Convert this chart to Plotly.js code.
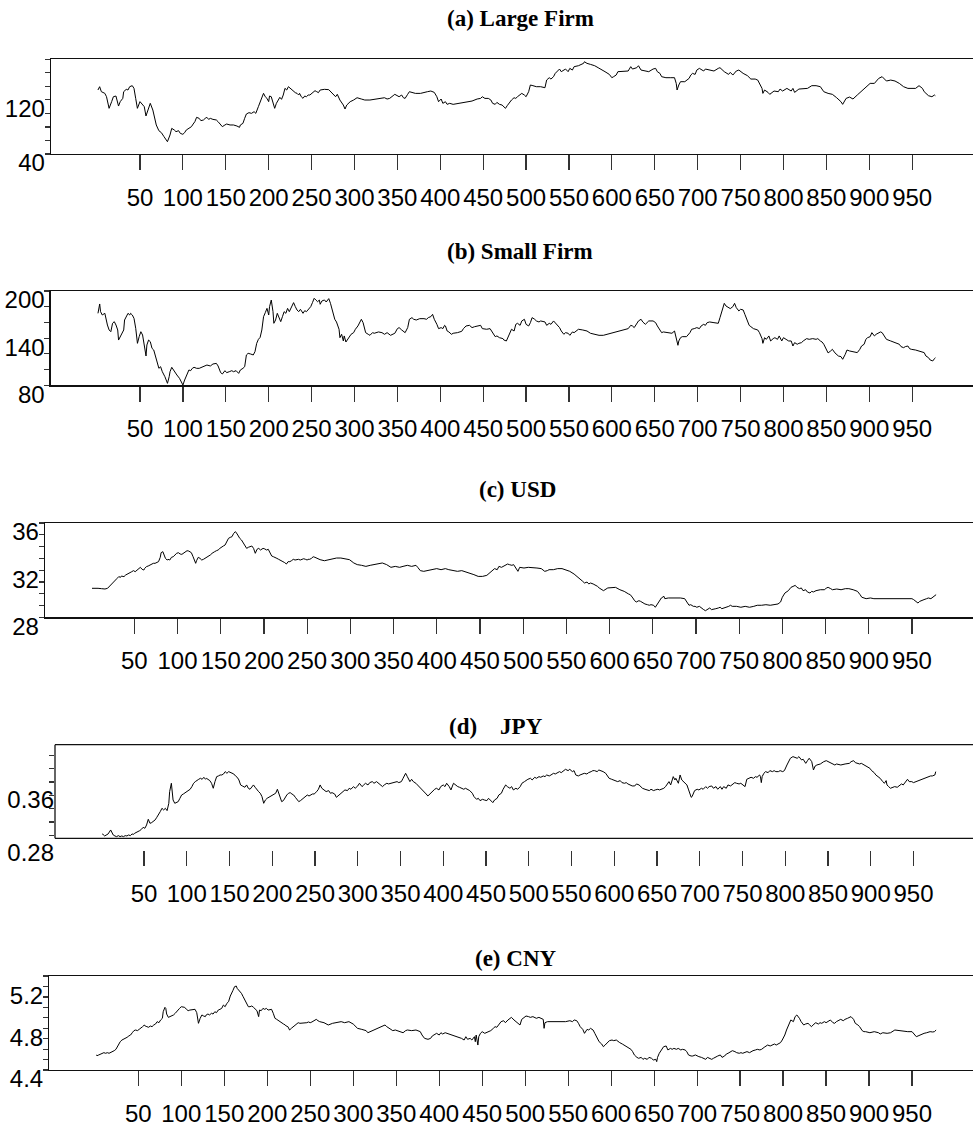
<!DOCTYPE html>
<html><head><meta charset="utf-8">
<script src="https://cdn.plot.ly/plotly-3.0.1.min.js"></script>
<style>html,body{margin:0;padding:0;background:#fff}#chart{width:973px;height:1127px}</style>
</head><body><div id="chart"></div>
<script>
// ---------- DATA ----------
const panelTitles = ["(a) Large Firm", "(b) Small Firm", "(c) USD", "(d)\u00a0\u00a0\u00a0\u00a0JPY", "(e) CNY"];
const xTickValues = [50,100,150,200,250,300,350,400,450,500,550,600,650,700,750,800,850,900,950];
const yLabelValues = [[40,120],[80,140,200],[28,32,36],[0.28,0.36],[4.4,4.8,5.2]];
const yMinorValues = [[40,60,80,100,120,140,160,180],[80,100,120,140,160,180,200],[28,29,30,31,32,33,34,35,36],[0.30,0.32,0.34,0.36,0.38,0.40,0.42],[4.4,4.5,4.6,4.7,4.8,4.9,5.0,5.1,5.2,5.3]];

// [observation index, value]
const largeFirm = [[1,134.6],[3,139.5],[5,132.1],[9,129.7],[11,124.7],[14,107.5],[17,117.4],[19,124.7],[22,125.7],[25,110.9],[27,117.4],[30,122.3],[31,132.1],[34,135.6],[36,134.6],[38,139.5],[41,141.0],[43,137.1],[45,122.3],[47,107.5],[50,117.4],[52,114.9],[55,110.0],[57,96.2],[60,107.5],[62,114.9],[65,105.0],[67,95.2],[69,82.9],[72,74.5],[75,71.5],[78,65.6],[80,61.7],[82,58.2],[85,68.1],[87,77.9],[90,75.5],[92,73.0],[95,74.5],[97,70.5],[100,69.1],[102,71.5],[104,75.5],[107,77.9],[110,80.4],[112,84.3],[114,87.8],[116,94.2],[119,92.7],[121,89.3],[124,90.3],[126,92.7],[128,94.2],[130,91.2],[132,92.7],[135,91.2],[139,90.3],[141,87.8],[144,82.9],[146,80.4],[149,82.9],[151,84.3],[155,82.9],[159,82.9],[163,81.4],[166,79.4],[167,82.9],[170,85.3],[172,92.7],[174,99.1],[177,101.1],[180,100.1],[183,102.6],[185,100.1],[188,110.0],[190,115.9],[192,122.3],[194,129.7],[196,124.7],[198,122.3],[200,117.4],[201,125.7],[203,124.7],[205,114.9],[207,107.5],[209,114.9],[211,119.8],[213,123.8],[215,120.8],[217,127.2],[219,137.1],[221,134.6],[223,139.5],[225,137.1],[227,135.6],[229,132.1],[231,130.7],[233,129.7],[235,127.2],[236,129.7],[238,124.7],[240,122.3],[242,125.7],[244,124.7],[246,127.2],[248,127.2],[250,129.7],[252,132.1],[254,133.6],[256,132.1],[258,130.7],[260,134.6],[265,135.6],[270,135.1],[274,129.6],[278,124.7],[280,128.2],[283,119.8],[287,112.4],[289,106.5],[291,112.4],[295,117.3],[299,119.8],[303,123.2],[308,121.3],[312,119.8],[318,119.8],[322,120.8],[329,122.2],[335,123.2],[338,121.3],[341,122.2],[345,126.2],[347,128.2],[352,124.7],[355,127.2],[357,123.2],[359,122.2],[362,128.2],[364,132.1],[371,129.6],[377,129.6],[385,132.1],[389,133.1],[393,131.1],[396,124.7],[398,117.3],[401,121.3],[403,114.9],[406,117.3],[408,113.4],[411,114.9],[415,113.4],[423,114.9],[430,117.3],[437,118.3],[443,121.3],[447,122.2],[449,124.7],[452,122.2],[456,122.2],[459,119.8],[461,114.9],[464,113.4],[466,116.3],[469,113.4],[472,112.4],[476,107.5],[478,111.4],[481,117.3],[483,119.8],[486,123.2],[488,122.2],[490,124.7],[493,128.2],[495,129.6],[498,127.2],[500,124.7],[503,132.1],[505,142.0],[508,141.0],[512,139.5],[517,139.5],[522,138.0],[524,149.4],[527,152.8],[529,150.8],[532,154.3],[534,159.2],[537,162.7],[539,165.6],[541,161.7],[544,164.1],[546,165.6],[549,161.7],[551,166.6],[554,164.1],[556,169.1],[561,170.5],[567,174.0],[568,176.4],[571,174.0],[575,172.5],[580,170.5],[584,167.6],[588,164.1],[592,161.7],[597,157.7],[600,152.8],[602,154.3],[605,156.7],[607,161.7],[612,161.7],[617,161.7],[619,162.7],[622,169.1],[624,165.6],[629,167.6],[631,170.5],[634,164.1],[639,162.7],[643,161.7],[648,165.6],[651,166.6],[653,161.7],[656,159.2],[658,154.3],[663,152.8],[668,152.8],[673,152.8],[675,144.4],[676,134.6],[678,142.0],[680,146.9],[685,146.9],[690,151.8],[692,156.7],[694,159.2],[697,157.7],[699,164.1],[702,166.6],[707,162.7],[709,165.6],[714,164.1],[719,162.7],[724,166.6],[726,167.6],[731,161.7],[736,157.7],[738,160.7],[741,156.7],[745,162.7],[748,164.1],[753,159.2],[758,155.8],[762,150.8],[767,150.8],[770,149.3],[772,144.4],[775,137.0],[776,129.6],[778,134.6],[782,131.1],[784,128.2],[789,133.1],[794,132.1],[796,136.0],[799,133.1],[804,137.0],[809,133.1],[811,137.0],[813,131.1],[818,136.0],[823,137.0],[828,137.0],[833,141.0],[838,141.0],[843,139.5],[847,132.1],[852,129.6],[857,128.2],[862,123.2],[867,117.3],[869,113.4],[873,122.2],[877,124.2],[881,121.3],[886,127.2],[891,133.1],[896,139.5],[901,144.4],[906,144.4],[911,151.8],[915,154.3],[920,147.9],[925,149.3],[930,147.9],[935,144.4],[940,139.5],[945,137.0],[949,137.0],[954,137.0],[958,141.0],[962,137.0],[964,132.1],[969,126.2],[973,124.7],[976,127.2],[977,126.2]];

const smallFirm = [[1,171.6],[3,183.5],[4,173.7],[6,169.5],[9,171.6],[10,165.2],[12,156.7],[14,150.4],[16,148.2],[18,158.9],[20,161.0],[22,156.7],[24,150.4],[25,137.6],[27,141.9],[29,146.1],[31,150.4],[32,163.1],[34,167.3],[36,171.6],[38,169.5],[39,171.6],[41,169.5],[43,165.2],[45,152.5],[47,133.4],[49,141.9],[51,148.2],[53,144.0],[55,131.3],[57,117.3],[58,131.3],[60,137.6],[62,135.5],[64,127.0],[66,124.9],[69,112.2],[70,107.1],[72,101.6],[74,103.7],[76,97.3],[79,91.0],[81,84.6],[82,82.5],[84,91.0],[85,97.3],[87,102.9],[89,99.5],[91,95.2],[93,93.1],[96,88.9],[98,84.6],[100,80.4],[102,86.7],[104,91.0],[105,95.2],[107,99.5],[109,98.6],[111,101.6],[113,102.9],[116,101.6],[119,101.6],[122,102.9],[125,103.7],[128,105.8],[132,104.6],[135,107.1],[139,107.9],[141,104.6],[144,96.1],[146,94.4],[149,98.6],[151,96.1],[154,97.3],[157,98.6],[159,97.3],[162,98.6],[165,95.2],[167,99.5],[170,101.6],[172,103.7],[174,118.6],[176,120.7],[179,119.8],[182,118.6],[184,122.8],[186,133.4],[188,138.5],[190,141.0],[192,150.4],[194,167.3],[196,172.4],[198,177.9],[200,169.5],[201,180.1],[203,188.5],[205,173.7],[206,158.9],[208,163.1],[210,171.6],[212,166.5],[214,161.0],[216,167.3],[218,173.7],[220,171.6],[222,177.9],[224,173.7],[226,177.9],[228,182.2],[229,185.2],[231,180.1],[233,175.8],[235,173.7],[237,176.7],[240,171.6],[242,175.0],[244,173.7],[246,176.7],[249,180.1],[251,185.2],[253,190.7],[255,188.5],[257,186.4],[259,188.5],[260,183.1],[262,187.3],[265,188.6],[267,186.0],[270,190.3],[272,184.3],[274,176.7],[277,164.0],[279,160.6],[282,151.3],[283,140.6],[285,144.9],[287,136.4],[288,142.8],[290,135.1],[292,138.5],[294,142.8],[296,144.9],[299,147.0],[301,151.3],[304,155.5],[306,160.6],[308,164.0],[310,159.7],[311,155.5],[313,147.0],[316,144.9],[318,143.6],[321,147.0],[323,146.2],[328,147.9],[332,147.0],[335,144.9],[338,147.0],[342,143.6],[347,146.2],[350,152.1],[352,153.4],[355,150.4],[357,149.1],[359,147.0],[362,153.4],[364,164.0],[367,166.1],[369,164.0],[372,163.1],[376,164.8],[381,164.8],[384,164.0],[386,166.1],[389,167.4],[391,170.3],[393,164.0],[396,157.6],[398,152.1],[401,153.4],[403,152.1],[405,156.3],[406,155.5],[408,149.1],[410,147.9],[413,144.9],[415,146.2],[420,147.0],[425,148.7],[427,152.1],[430,155.5],[434,156.3],[437,153.4],[440,154.6],[444,155.5],[447,156.3],[449,152.1],[454,151.3],[458,152.1],[461,147.0],[464,141.9],[466,142.8],[469,140.6],[473,139.4],[474,137.7],[477,136.4],[481,147.9],[483,151.3],[486,149.1],[488,157.6],[490,158.9],[493,156.3],[495,161.9],[498,164.0],[500,157.6],[503,155.5],[505,159.7],[507,166.1],[510,164.0],[512,161.9],[515,160.6],[517,161.9],[522,160.6],[524,156.3],[527,158.9],[529,157.6],[532,161.9],[534,159.7],[537,156.3],[539,153.4],[541,149.1],[544,144.9],[546,147.0],[549,146.2],[551,143.6],[554,147.9],[556,147.0],[558,149.1],[561,151.3],[566,150.4],[571,149.1],[575,146.2],[580,144.9],[585,143.6],[590,143.6],[595,144.9],[600,146.2],[605,147.9],[609,149.1],[614,150.4],[619,152.1],[622,156.3],[624,155.5],[626,153.4],[629,158.9],[631,161.9],[634,164.0],[636,160.6],[639,157.6],[641,159.7],[643,161.9],[648,161.9],[651,159.7],[653,155.5],[656,150.4],[658,147.0],[660,147.9],[665,147.0],[670,146.2],[673,149.1],[675,140.6],[677,130.9],[678,136.4],[680,140.6],[682,141.9],[687,141.9],[691,147.0],[693,151.3],[696,152.1],[699,153.4],[702,152.1],[704,155.5],[707,157.6],[709,156.3],[711,159.7],[714,160.6],[719,159.7],[724,158.9],[726,166.1],[728,172.5],[731,184.3],[733,180.9],[736,178.8],[738,177.6],[741,180.1],[743,184.3],[745,178.8],[748,174.6],[750,176.7],[753,175.9],[755,170.3],[758,161.9],[760,156.3],[762,154.6],[765,152.1],[770,150.4],[772,147.0],[775,139.4],[776,133.4],[778,140.6],[780,138.5],[783,142.8],[785,136.4],[788,139.4],[790,140.6],[793,138.5],[795,142.8],[798,136.4],[800,140.6],[803,138.5],[806,136.4],[809,136.4],[811,130.0],[813,134.3],[816,132.2],[818,133.4],[821,134.3],[823,136.4],[827,139.4],[830,138.5],[834,139.4],[838,138.5],[840,139.4],[843,136.4],[845,135.1],[847,132.2],[850,125.8],[852,121.2],[855,123.7],[857,125.8],[860,121.2],[862,119.4],[864,117.3],[867,116.5],[869,113.1],[872,119.4],[874,124.9],[877,123.7],[881,122.4],[886,121.6],[889,125.8],[891,130.0],[894,132.2],[896,138.5],[898,140.6],[901,141.9],[903,147.0],[906,142.8],[908,144.9],[911,147.0],[913,147.9],[915,147.0],[918,142.8],[920,138.5],[925,136.4],[930,134.3],[935,132.2],[937,129.2],[940,127.9],[942,129.2],[945,130.0],[947,126.6],[949,125.8],[954,124.9],[959,123.7],[964,121.6],[966,117.3],[969,115.2],[971,112.2],[974,111.0],[976,113.9],[977,115.2]];

const usdRate = [[1,30.46],[5,30.49],[8,30.46],[12,30.43],[16,30.40],[19,30.46],[21,30.60],[24,30.80],[26,31.02],[28,31.16],[30,31.30],[32,31.45],[34,31.39],[35,31.50],[38,31.45],[40,31.59],[43,31.67],[45,31.79],[47,31.87],[49,31.96],[51,31.87],[53,32.01],[55,32.15],[57,32.24],[59,32.07],[61,32.01],[62,32.15],[64,32.30],[66,32.35],[68,32.44],[70,32.52],[72,32.58],[74,32.58],[76,32.64],[78,32.72],[80,33.09],[81,33.48],[83,33.57],[84,33.37],[86,33.00],[88,32.86],[89,32.92],[91,32.86],[93,33.09],[95,33.14],[97,33.29],[99,33.43],[101,33.48],[103,33.37],[105,33.34],[107,33.43],[109,33.57],[111,33.65],[113,33.62],[114,33.57],[116,33.48],[118,33.14],[120,32.64],[121,32.58],[122,32.80],[124,33.09],[126,33.00],[128,32.86],[130,32.92],[132,33.00],[134,33.09],[136,33.20],[138,33.29],[140,33.43],[142,33.48],[143,33.57],[145,33.65],[147,33.71],[149,33.85],[151,33.99],[153,34.05],[155,34.13],[157,34.42],[159,34.70],[161,34.78],[163,34.84],[165,35.12],[167,35.27],[169,35.07],[170,34.90],[172,34.70],[174,34.56],[176,34.33],[178,34.13],[180,33.85],[182,33.94],[184,33.99],[186,34.05],[188,33.85],[190,33.43],[192,33.77],[194,33.85],[196,33.71],[197,33.77],[199,33.85],[201,33.80],[203,33.71],[205,33.77],[207,33.43],[209,33.20],[211,33.14],[213,33.09],[215,33.00],[217,32.92],[219,32.86],[221,32.81],[222,32.72],[224,32.64],[226,32.52],[228,32.72],[230,32.72],[232,32.81],[234,32.92],[236,32.86],[238,32.92],[240,32.92],[242,32.86],[244,32.92],[246,32.97],[248,32.92],[250,32.86],[251,32.92],[253,32.92],[255,33.00],[257,33.14],[259,33.09],[265,32.89],[270,32.80],[275,32.89],[279,32.97],[284,33.03],[289,33.03],[294,32.97],[299,32.89],[304,32.61],[308,32.47],[313,32.41],[318,32.32],[323,32.41],[328,32.47],[332,32.52],[337,32.61],[342,32.47],[347,32.24],[352,32.32],[357,32.24],[361,32.32],[366,32.41],[371,32.32],[376,32.41],[378,32.24],[381,31.96],[385,31.90],[390,31.96],[395,32.04],[400,32.13],[405,32.04],[410,32.13],[414,32.04],[419,31.96],[424,31.90],[429,31.96],[434,31.84],[439,31.76],[443,31.62],[448,31.47],[453,31.47],[458,31.56],[460,31.67],[463,31.90],[465,31.96],[467,32.13],[470,32.04],[472,32.32],[475,32.24],[477,32.32],[480,32.47],[482,32.52],[484,32.47],[487,32.41],[489,32.47],[492,32.18],[494,31.90],[496,32.24],[501,32.18],[506,32.24],[511,32.18],[516,32.18],[521,32.13],[525,31.90],[528,31.96],[530,32.04],[535,32.04],[540,32.13],[545,32.13],[549,32.04],[554,31.90],[559,31.67],[564,31.39],[569,31.05],[571,30.91],[574,30.99],[576,30.83],[578,30.91],[581,30.83],[583,30.77],[586,30.63],[588,30.49],[593,30.26],[598,30.49],[603,30.49],[607,30.54],[612,30.34],[617,30.20],[622,29.98],[624,29.92],[627,29.64],[629,29.41],[631,29.30],[634,29.41],[636,29.35],[639,29.21],[641,29.13],[644,29.07],[646,29.02],[648,29.07],[651,29.02],[653,28.85],[656,29.21],[658,29.41],[660,29.64],[663,29.78],[664,29.58],[668,29.64],[672,29.64],[677,29.70],[682,29.64],[687,29.58],[689,29.35],[692,29.02],[694,29.07],[697,28.93],[699,28.93],[701,28.85],[704,28.93],[706,28.79],[709,28.65],[711,28.56],[714,28.73],[716,28.79],[718,28.65],[721,28.73],[723,28.73],[726,28.79],[728,28.85],[730,28.73],[733,28.79],[735,28.85],[738,28.93],[740,29.02],[742,28.93],[747,28.93],[752,28.85],[757,28.93],[762,28.85],[767,28.93],[771,29.02],[776,29.02],[781,29.07],[786,29.02],[791,29.07],[795,29.13],[798,29.30],[800,29.70],[803,30.06],[805,30.15],[807,30.26],[810,30.54],[812,30.63],[815,30.71],[817,30.54],[820,30.43],[822,30.49],[824,30.26],[827,30.34],[829,30.15],[832,30.06],[834,30.20],[836,30.15],[839,30.26],[844,30.34],[849,30.34],[851,30.49],[853,30.54],[856,30.43],[858,30.34],[863,30.40],[868,30.34],[873,30.43],[877,30.43],[882,30.34],[885,30.26],[887,30.20],[890,29.92],[892,29.70],[897,29.58],[902,29.64],[906,29.58],[911,29.58],[916,29.64],[921,29.58],[926,29.64],[931,29.58],[935,29.64],[940,29.58],[945,29.58],[950,29.58],[952,29.50],[955,29.30],[957,29.21],[959,29.35],[962,29.41],[964,29.50],[967,29.58],[969,29.64],[972,29.58],[974,29.70],[976,29.78],[978,29.92]];

const jpyRate = [[1,0.3020],[2,0.3015],[4,0.2990],[6,0.3005],[8,0.3020],[11,0.3080],[14,0.3005],[16,0.2990],[18,0.2980],[20,0.2995],[22,0.2980],[24,0.2990],[26,0.2980],[28,0.2995],[30,0.2990],[32,0.3005],[34,0.2995],[36,0.3020],[38,0.3015],[39,0.3030],[41,0.3040],[43,0.3055],[45,0.3070],[47,0.3090],[49,0.3120],[51,0.3105],[53,0.3155],[55,0.3241],[57,0.3180],[59,0.3191],[61,0.3206],[63,0.3231],[65,0.3271],[67,0.3306],[69,0.3356],[71,0.3406],[73,0.3381],[75,0.3406],[77,0.3371],[79,0.3481],[80,0.3657],[82,0.3782],[83,0.3632],[84,0.3531],[86,0.3481],[88,0.3491],[90,0.3506],[92,0.3556],[94,0.3606],[96,0.3621],[98,0.3641],[100,0.3657],[102,0.3682],[104,0.3692],[106,0.3732],[108,0.3782],[110,0.3807],[112,0.3832],[114,0.3842],[116,0.3857],[118,0.3842],[120,0.3872],[122,0.3842],[123,0.3857],[125,0.3842],[127,0.3822],[129,0.3782],[131,0.3707],[133,0.3807],[135,0.3882],[137,0.3892],[139,0.3907],[141,0.3907],[143,0.3922],[145,0.3957],[147,0.3932],[149,0.3957],[151,0.3942],[153,0.3932],[155,0.3922],[157,0.3892],[159,0.3872],[161,0.3832],[163,0.3757],[165,0.3742],[166,0.3732],[168,0.3722],[170,0.3757],[172,0.3707],[174,0.3692],[176,0.3732],[178,0.3757],[180,0.3722],[182,0.3682],[184,0.3657],[186,0.3632],[188,0.3581],[190,0.3481],[192,0.3531],[194,0.3556],[196,0.3571],[198,0.3581],[200,0.3606],[202,0.3621],[204,0.3632],[206,0.3692],[208,0.3606],[210,0.3531],[211,0.3506],[213,0.3521],[215,0.3571],[217,0.3606],[219,0.3632],[221,0.3641],[223,0.3621],[225,0.3606],[227,0.3571],[229,0.3531],[231,0.3506],[233,0.3521],[235,0.3541],[237,0.3556],[239,0.3581],[241,0.3606],[243,0.3591],[245,0.3606],[247,0.3621],[249,0.3621],[250,0.3632],[252,0.3657],[254,0.3692],[256,0.3757],[258,0.3707],[261,0.3682],[263,0.3657],[266,0.3672],[268,0.3632],[270,0.3641],[273,0.3621],[275,0.3571],[278,0.3606],[280,0.3632],[283,0.3657],[285,0.3682],[288,0.3672],[290,0.3707],[292,0.3692],[295,0.3732],[297,0.3707],[300,0.3742],[302,0.3782],[305,0.3732],[307,0.3757],[309,0.3782],[312,0.3757],[314,0.3792],[317,0.3807],[319,0.3782],[322,0.3807],[324,0.3782],[326,0.3757],[329,0.3732],[331,0.3757],[334,0.3782],[336,0.3772],[339,0.3782],[344,0.3792],[346,0.3807],[348,0.3792],[351,0.3807],[353,0.3857],[356,0.3932],[358,0.3882],[361,0.3807],[363,0.3842],[365,0.3807],[368,0.3782],[370,0.3757],[373,0.3722],[375,0.3692],[378,0.3657],[380,0.3621],[382,0.3591],[385,0.3632],[387,0.3657],[390,0.3692],[392,0.3707],[395,0.3682],[397,0.3732],[400,0.3757],[402,0.3732],[404,0.3782],[407,0.3732],[409,0.3682],[412,0.3782],[414,0.3757],[417,0.3732],[419,0.3722],[421,0.3707],[424,0.3692],[426,0.3707],[429,0.3692],[431,0.3672],[434,0.3632],[436,0.3581],[439,0.3541],[441,0.3556],[443,0.3521],[446,0.3541],[448,0.3531],[451,0.3521],[453,0.3556],[456,0.3506],[458,0.3491],[460,0.3531],[463,0.3556],[465,0.3606],[468,0.3632],[470,0.3692],[473,0.3757],[475,0.3732],[478,0.3707],[480,0.3732],[482,0.3682],[485,0.3707],[487,0.3692],[490,0.3732],[492,0.3782],[495,0.3807],[497,0.3832],[499,0.3842],[502,0.3857],[504,0.3832],[507,0.3872],[509,0.3857],[512,0.3882],[514,0.3872],[517,0.3892],[519,0.3882],[521,0.3907],[524,0.3892],[526,0.3907],[529,0.3932],[531,0.3922],[534,0.3942],[536,0.3957],[538,0.3942],[541,0.3972],[543,0.3992],[546,0.3972],[548,0.3992],[551,0.3957],[553,0.3972],[555,0.3907],[558,0.3892],[560,0.3907],[563,0.3922],[565,0.3932],[568,0.3922],[570,0.3942],[573,0.3957],[575,0.3972],[577,0.3972],[580,0.3957],[582,0.3982],[585,0.3972],[587,0.3957],[590,0.3932],[592,0.3892],[594,0.3857],[597,0.3842],[599,0.3832],[602,0.3807],[604,0.3807],[607,0.3822],[609,0.3792],[612,0.3782],[614,0.3792],[616,0.3772],[619,0.3757],[621,0.3742],[624,0.3742],[626,0.3772],[629,0.3757],[631,0.3732],[633,0.3707],[636,0.3692],[638,0.3682],[641,0.3672],[643,0.3692],[646,0.3672],[648,0.3682],[651,0.3692],[653,0.3682],[655,0.3692],[658,0.3707],[660,0.3732],[663,0.3782],[664,0.3807],[666,0.3757],[668,0.3822],[669,0.3882],[671,0.3832],[672,0.3857],[675,0.3782],[677,0.3907],[679,0.3832],[681,0.3807],[682,0.3792],[685,0.3757],[687,0.3682],[689,0.3606],[690,0.3571],[691,0.3581],[693,0.3632],[694,0.3672],[697,0.3692],[699,0.3682],[702,0.3707],[704,0.3692],[707,0.3732],[709,0.3707],[711,0.3732],[714,0.3742],[716,0.3707],[719,0.3732],[721,0.3692],[724,0.3732],[726,0.3692],[728,0.3732],[731,0.3707],[733,0.3757],[736,0.3742],[738,0.3757],[741,0.3792],[743,0.3782],[746,0.3772],[748,0.3782],[750,0.3757],[753,0.3732],[755,0.3842],[758,0.3857],[760,0.3872],[763,0.3857],[765,0.3882],[767,0.3872],[770,0.3907],[771,0.3882],[772,0.3792],[773,0.3882],[775,0.3932],[777,0.3957],[780,0.3942],[782,0.3972],[785,0.3957],[787,0.3972],[789,0.3957],[792,0.3957],[794,0.3972],[797,0.3957],[799,0.3972],[802,0.4057],[804,0.4107],[806,0.4158],[809,0.4183],[811,0.4173],[814,0.4158],[816,0.4183],[819,0.4133],[821,0.4143],[824,0.4082],[826,0.4122],[828,0.4158],[831,0.4107],[833,0.3982],[835,0.4042],[837,0.4057],[841,0.4072],[843,0.4092],[845,0.4107],[848,0.4122],[850,0.4107],[853,0.4092],[855,0.4072],[858,0.4057],[860,0.4072],[865,0.4057],[870,0.4072],[875,0.4082],[877,0.4107],[880,0.4122],[882,0.4092],[884,0.4082],[887,0.4072],[889,0.4082],[892,0.4057],[894,0.4042],[897,0.4022],[899,0.4007],[901,0.3972],[904,0.3942],[906,0.3907],[909,0.3882],[911,0.3857],[914,0.3807],[916,0.3782],[918,0.3822],[919,0.3757],[921,0.3732],[923,0.3707],[926,0.3722],[928,0.3732],[931,0.3722],[933,0.3742],[936,0.3772],[938,0.3757],[940,0.3792],[943,0.3842],[945,0.3807],[948,0.3807],[950,0.3792],[953,0.3807],[955,0.3822],[958,0.3832],[960,0.3842],[962,0.3857],[965,0.3872],[967,0.3882],[970,0.3892],[972,0.3892],[975,0.3907],[976,0.3957]];

const cnyRate = [[1,4.544],[2,4.537],[4,4.544],[6,4.550],[8,4.553],[10,4.566],[12,4.560],[14,4.566],[16,4.560],[18,4.566],[20,4.576],[22,4.585],[24,4.598],[26,4.624],[28,4.662],[29,4.671],[31,4.687],[33,4.694],[35,4.703],[37,4.713],[39,4.726],[41,4.735],[43,4.757],[45,4.777],[47,4.783],[49,4.777],[51,4.789],[53,4.799],[55,4.815],[57,4.831],[58,4.821],[60,4.815],[62,4.809],[64,4.821],[66,4.815],[68,4.831],[70,4.840],[72,4.863],[74,4.853],[76,4.879],[78,4.895],[79,4.958],[81,5.000],[82,4.990],[83,4.936],[85,4.904],[87,4.911],[89,4.917],[91,4.927],[93,4.943],[95,4.958],[96,4.974],[98,4.990],[100,5.006],[102,5.006],[104,5.000],[106,4.981],[108,4.968],[110,4.974],[112,4.974],[114,4.981],[116,4.981],[118,4.949],[119,4.895],[120,4.847],[122,4.895],[124,4.927],[126,4.917],[128,4.911],[129,4.927],[131,4.936],[133,4.927],[135,4.943],[137,4.936],[139,4.958],[141,4.949],[143,4.974],[145,4.981],[147,4.990],[149,5.022],[151,5.006],[153,5.038],[155,5.054],[157,5.108],[159,5.134],[160,5.160],[162,5.198],[164,5.204],[165,5.182],[167,5.166],[170,5.134],[172,5.102],[174,5.070],[176,5.032],[178,5.006],[180,5.006],[182,5.013],[184,5.000],[186,4.981],[188,4.968],[190,4.911],[191,4.974],[193,4.968],[195,4.990],[197,4.981],[199,4.990],[201,4.974],[203,4.981],[205,4.981],[207,4.943],[209,4.895],[211,4.885],[213,4.872],[215,4.863],[217,4.853],[219,4.840],[221,4.831],[222,4.821],[224,4.815],[226,4.783],[228,4.799],[230,4.815],[232,4.831],[234,4.847],[236,4.853],[238,4.847],[240,4.847],[242,4.853],[244,4.847],[246,4.853],[248,4.860],[250,4.853],[252,4.860],[254,4.872],[255,4.879],[257,4.885],[259,4.872],[261,4.863],[266,4.853],[271,4.831],[276,4.847],[281,4.853],[286,4.863],[290,4.853],[295,4.863],[300,4.840],[305,4.799],[310,4.789],[315,4.777],[317,4.757],[320,4.767],[324,4.783],[329,4.799],[334,4.821],[337,4.831],[339,4.815],[344,4.789],[346,4.777],[349,4.783],[354,4.767],[358,4.757],[361,4.777],[363,4.783],[368,4.777],[373,4.783],[378,4.767],[380,4.735],[383,4.703],[387,4.694],[390,4.703],[392,4.726],[397,4.751],[400,4.735],[402,4.757],[404,4.745],[407,4.757],[409,4.751],[412,4.745],[417,4.726],[421,4.719],[426,4.703],[429,4.687],[431,4.719],[433,4.694],[436,4.703],[438,4.687],[441,4.719],[442,4.671],[443,4.735],[445,4.639],[446,4.719],[448,4.751],[450,4.767],[453,4.751],[455,4.757],[458,4.767],[460,4.777],[463,4.799],[465,4.815],[467,4.809],[470,4.847],[472,4.863],[475,4.872],[477,4.853],[480,4.879],[482,4.895],[484,4.904],[487,4.879],[489,4.863],[492,4.847],[494,4.831],[496,4.885],[499,4.904],[501,4.917],[504,4.911],[506,4.904],[509,4.911],[511,4.904],[513,4.895],[516,4.904],[518,4.895],[521,4.885],[522,4.799],[523,4.853],[526,4.863],[528,4.863],[533,4.863],[538,4.863],[543,4.863],[547,4.863],[552,4.872],[555,4.863],[557,4.879],[560,4.872],[562,4.847],[564,4.815],[567,4.789],[569,4.751],[572,4.789],[574,4.783],[576,4.799],[579,4.783],[581,4.751],[584,4.703],[586,4.671],[589,4.649],[591,4.623],[593,4.639],[596,4.662],[598,4.681],[601,4.687],[603,4.681],[606,4.687],[608,4.671],[610,4.662],[613,4.649],[615,4.639],[618,4.617],[620,4.607],[623,4.598],[625,4.576],[627,4.544],[630,4.521],[632,4.512],[635,4.521],[637,4.502],[639,4.512],[642,4.502],[644,4.521],[647,4.512],[649,4.496],[652,4.502],[653,4.480],[654,4.521],[656,4.560],[659,4.592],[661,4.623],[664,4.630],[666,4.592],[669,4.607],[671,4.598],[673,4.607],[676,4.598],[678,4.607],[681,4.592],[683,4.598],[686,4.592],[688,4.576],[690,4.544],[693,4.534],[695,4.534],[698,4.544],[700,4.534],[702,4.528],[705,4.521],[707,4.512],[710,4.502],[712,4.521],[715,4.512],[717,4.502],[719,4.512],[722,4.521],[724,4.534],[727,4.544],[729,4.521],[732,4.534],[734,4.553],[736,4.560],[739,4.576],[741,4.585],[744,4.576],[746,4.566],[749,4.560],[751,4.566],[753,4.560],[756,4.566],[758,4.576],[761,4.566],[763,4.576],[765,4.585],[768,4.592],[770,4.598],[773,4.592],[775,4.598],[778,4.617],[780,4.630],[782,4.639],[785,4.630],[787,4.639],[790,4.649],[792,4.639],[795,4.649],[797,4.662],[799,4.687],[802,4.735],[804,4.783],[807,4.847],[809,4.879],[812,4.863],[814,4.911],[816,4.927],[818,4.911],[819,4.895],[821,4.863],[824,4.831],[826,4.840],[829,4.847],[831,4.831],[833,4.815],[836,4.840],[838,4.853],[841,4.840],[843,4.853],[845,4.847],[848,4.863],[850,4.853],[853,4.872],[855,4.879],[858,4.853],[860,4.847],[862,4.863],[865,4.879],[867,4.885],[870,4.872],[872,4.885],[875,4.895],[877,4.904],[879,4.911],[882,4.885],[884,4.847],[887,4.831],[889,4.815],[892,4.777],[894,4.767],[896,4.767],[901,4.757],[906,4.767],[911,4.757],[913,4.745],[916,4.757],[921,4.751],[925,4.757],[930,4.783],[935,4.777],[940,4.777],[945,4.767],[950,4.767],[952,4.751],[955,4.719],[957,4.726],[959,4.735],[962,4.745],[964,4.751],[967,4.757],[969,4.764],[971,4.767],[974,4.764],[976,4.767],[978,4.783]];

const seriesList = [largeFirm, smallFirm, usdRate, jpyRate, cnyRate];

// ---------- LAYOUT SETTINGS (geometry in page pixels) ----------
const W = 973, H = 1127;
const panels = [
  {left: 51,   top: 59.3,  bottom: 154,   xr: [-53.7, 1020.9], yr: [40, 180.001], shift: 9},
  {left: 50.7, top: 291,   bottom: 385.3, xr: [-54.1, 1020.9], yr: [80, 200.001], shift: 9},
  {left: 45,   top: 523,   bottom: 617.3, xr: [-53.4, 1020.7], yr: [28, 36.001], shift: 9},
  {left: 55,   top: 744.7, bottom: 850,   xr: [-54.1, 1019.6], yr: [0.2779, 0.4362], shift: 4, special: true, frameBottom: 838.3},
  {left: 49.3, top: 976,   bottom: 1070,  xr: [-53.5, 1020.9], yr: [4.4, 5.3001], shift: 9}
];
const titlePos = [[520, 18], [520, 251], [517, 489], [496, 726], [515, 958]];

const lineCol = '#111', tickCol = '#333';
const tickFont = {family: 'Liberation Sans, Arial, sans-serif', size: 24, color: '#000'};

const traces = seriesList.map((s, k) => ({
  type: 'scatter', mode: 'lines',
  x: s.map(p => p[0]), y: s.map(p => p[1]),
  xaxis: 'x' + (k ? k + 1 : ''), yaxis: 'y' + (k ? k + 1 : ''),
  line: {color: '#000', width: 1}, hoverinfo: 'skip', showlegend: false
}));

const layout = {
  width: W, height: H, margin: {l: 0, r: 0, t: 0, b: 0},
  paper_bgcolor: '#fff', plot_bgcolor: 'rgba(0,0,0,0)',
  showlegend: false, shapes: [], annotations: []
};

panels.forEach((p, k) => {
  const sx = k ? String(k + 1) : '';
  layout['xaxis' + sx] = {
    domain: [p.left / W, 1], anchor: 'y' + sx, range: p.xr,
    tickmode: 'array', tickvals: xTickValues, ticktext: xTickValues.map(String),
    ticks: 'outside', ticklen: 15, tickwidth: 1.2, tickcolor: tickCol,
    showline: !p.special, linecolor: lineCol, linewidth: 1.3, mirror: !p.special,
    showgrid: false, zeroline: false, tickangle: 0, tickfont: tickFont,
    ticklabelstandoff: 7, automargin: false, fixedrange: true
  };
  layout['yaxis' + sx] = {
    domain: [1 - p.bottom / H, 1 - p.top / H], anchor: 'x' + sx, range: p.yr,
    tickmode: 'array', tickvals: yLabelValues[k], ticktext: yLabelValues[k].map(String),
    ticks: '',
    minor: {ticks: 'outside', ticklen: 5, tickwidth: 1.2, tickcolor: tickCol,
            tickmode: 'array', tickvals: yMinorValues[k], showgrid: false},
    showline: !p.special, linecolor: lineCol, linewidth: 1.3,
    showgrid: false, zeroline: false, tickfont: tickFont,
    ticklabelshift: p.shift, automargin: false, fixedrange: true
  };
  if (p.special) {
    // frame lines of panel (d): left, bottom, top (tick row sits below the frame)
    const fx = p.left / W, fb = 1 - p.frameBottom / H, ft = 1 - p.top / H;
    layout.shapes.push(
      {type: 'line', xref: 'paper', yref: 'paper', x0: fx, x1: fx, y0: fb, y1: ft, line: {color: lineCol, width: 1.3}},
      {type: 'line', xref: 'paper', yref: 'paper', x0: fx, x1: 1, y0: fb, y1: fb, line: {color: lineCol, width: 1.3}},
      {type: 'line', xref: 'paper', yref: 'paper', x0: fx, x1: 1, y0: ft, y1: ft, line: {color: lineCol, width: 1.3}}
    );
  }
  layout.annotations.push({
    xref: 'paper', yref: 'paper', x: titlePos[k][0] / W, y: 1 - titlePos[k][1] / H,
    xanchor: 'center', yanchor: 'middle', showarrow: false,
    text: '<b>' + panelTitles[k] + '</b>',
    font: {family: 'Liberation Serif, Times New Roman, serif', size: 23, color: '#000'}
  });
});

Plotly.newPlot('chart', traces, layout, {staticPlot: true, displayModeBar: false});
</script>
</body></html>
